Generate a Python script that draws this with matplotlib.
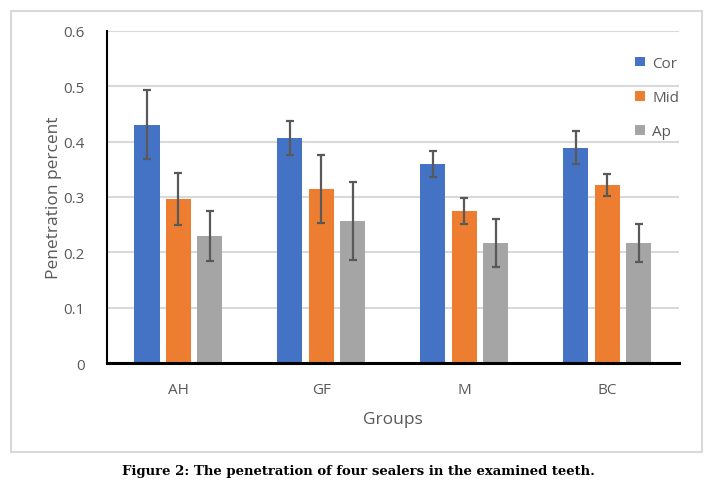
# Bar chart of sealer penetration with error bars

import numpy as np
import matplotlib.pyplot as plt
from matplotlib.patches import Rectangle

groups = ['AH', 'GF', 'M', 'BC']
series = ['Cor', 'Mid', 'Ap']
cor = [0.431, 0.407, 0.360, 0.389]
mid = [0.297, 0.314, 0.275, 0.321]
ap = [0.229, 0.257, 0.217, 0.217]
cor_err = [0.062, 0.031, 0.024, 0.030]
mid_err = [0.047, 0.061, 0.024, 0.020]
ap_err = [0.045, 0.070, 0.044, 0.035]

colors = ['#4472C4', '#ED7D31', '#A5A5A5']
grey_txt = '#595959'

fig = plt.figure(figsize=(7.16, 4.89), dpi=100)
ax = fig.add_axes([0.1494, 0.2556, 0.7986, 0.679])

x = np.arange(len(groups))
width = 0.175
offset = 0.22
for i, (vals, errs) in enumerate([(cor, cor_err), (mid, mid_err), (ap, ap_err)]):
    ax.bar(x + (i - 1) * offset, vals, width, color=colors[i], label=series[i], zorder=2)
    ax.errorbar(x + (i - 1) * offset, vals, yerr=errs, fmt='none', ecolor=grey_txt,
                elinewidth=1.6, capsize=2.6, capthick=1.6, zorder=3)

ax.set_xlim(-0.5, 3.5)
ax.set_ylim(0, 0.6)
ax.set_yticks([0, 0.1, 0.2, 0.3, 0.4, 0.5, 0.6])
ax.set_yticklabels(['0', '0.1', '0.2', '0.3', '0.4', '0.5', '0.6'])
ax.set_xticks(x)
ax.set_xticklabels(groups)
ax.yaxis.grid(True, color='#d9d9d9', linewidth=1.5, zorder=0)
ax.set_axisbelow(True)
ax.tick_params(axis='both', length=0, colors=grey_txt, labelsize=11)
ax.tick_params(axis='y', pad=16)
ax.tick_params(axis='x', pad=14)
for lab in ax.get_xticklabels() + ax.get_yticklabels():
    lab.set_family('Open Sans')
ax.spines['top'].set_visible(False)
ax.spines['right'].set_visible(False)
ax.spines['left'].set_linewidth(1.5)
ax.spines['bottom'].set_linewidth(2.2)
ax.spines['left'].set_color('black')
ax.spines['bottom'].set_color('black')

ax.set_xlabel('Groups', fontsize=12.5, color=grey_txt, family='Open Sans', labelpad=10)
ax.set_ylabel('Penetration percent', fontsize=12.5, color=grey_txt,
              family='Open Sans', labelpad=1)

leg = ax.legend(loc='upper left', bbox_to_anchor=(0.9, 0.966), frameon=False,
                handlelength=0.6, handleheight=0.6, handletextpad=0.5,
                labelspacing=1.25, prop={'family': 'Open Sans', 'size': 11})
for t in leg.get_texts():
    t.set_color(grey_txt)

# outer frame around the chart
fig.patches.append(Rectangle((11 / 716, 1 - 453 / 489), 691 / 716, 441 / 489,
                             transform=fig.transFigure, fill=False,
                             edgecolor='#d9d9d9', linewidth=1.5))

fig.text(0.5, 1 - 472 / 489, 'Figure 2: The penetration of four sealers in the examined teeth.',
         ha='center', va='center', fontsize=9.5, fontweight='bold', family='DejaVu Serif')

fig.savefig('out.png', dpi=100)
